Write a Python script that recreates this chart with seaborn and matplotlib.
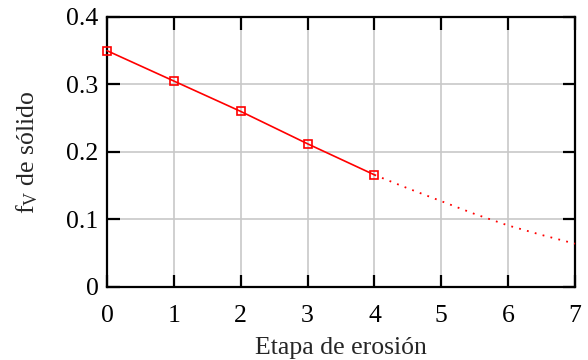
import matplotlib
matplotlib.use("Agg")
import matplotlib.pyplot as plt
import seaborn as sns
import pandas as pd

# measured stages (solid line with markers)
etapas = [0, 1, 2, 3, 4]
fv_solido = [0.350, 0.305, 0.260, 0.212, 0.166]

# extrapolated trend (dotted)
etapas_ext = [4, 4.5, 5, 5.5, 6, 6.5, 7]
fv_ext = [0.166, 0.146, 0.127, 0.108, 0.091, 0.077, 0.064]

sns.set_theme(style="whitegrid")
plt.rcParams["font.family"] = ["Liberation Serif", "DejaVu Serif"]
plt.rcParams["mathtext.fontset"] = "custom"
plt.rcParams["mathtext.rm"] = "Liberation Serif"
plt.rcParams["mathtext.it"] = "Liberation Serif:italic"

df = pd.DataFrame({"etapa": etapas, "fv": fv_solido})
df_ext = pd.DataFrame({"etapa": etapas_ext, "fv": fv_ext})

fig, ax = plt.subplots(figsize=(5.88, 3.6), dpi=100)
fig.subplots_adjust(left=0.182, right=0.978, top=0.953, bottom=0.203)

sns.lineplot(data=df_ext, x="etapa", y="fv", ax=ax, color="red",
             linestyle=(0, (1, 3.5)), linewidth=1.3)
sns.lineplot(data=df, x="etapa", y="fv", ax=ax, color="red", linewidth=1.2,
             marker="s", markersize=6, markerfacecolor="none",
             markeredgecolor="red", markeredgewidth=1.2)
for ln in ax.lines:
    ln.set_clip_on(False)
    ln.set_zorder(5)

ax.set_xlim(0, 7)
ax.set_ylim(0, 0.4)
ax.set_xticks(range(0, 8))
ax.set_yticks([0, 0.1, 0.2, 0.3, 0.4])
ax.set_yticklabels(["0", "0.1", "0.2", "0.3", "0.4"])

ax.set_facecolor("white")
ax.grid(True, color="#c8c8c8", linewidth=1.2)
for s in ax.spines.values():
    s.set_color("black")
    s.set_linewidth(1.6)

ax.tick_params(direction="in", length=9, width=1.6, colors="black",
               labelsize=18.5, top=True, right=True, bottom=True, left=True,
               pad=6)
ax.tick_params(axis="x", pad=13)

ax.set_xlabel("Etapa de erosión", fontsize=18.5, labelpad=7)
ax.set_ylabel(r"f$_\mathrm{V}$ de sólido", fontsize=18.5, labelpad=19)

fig.savefig("out.png", dpi=100)
